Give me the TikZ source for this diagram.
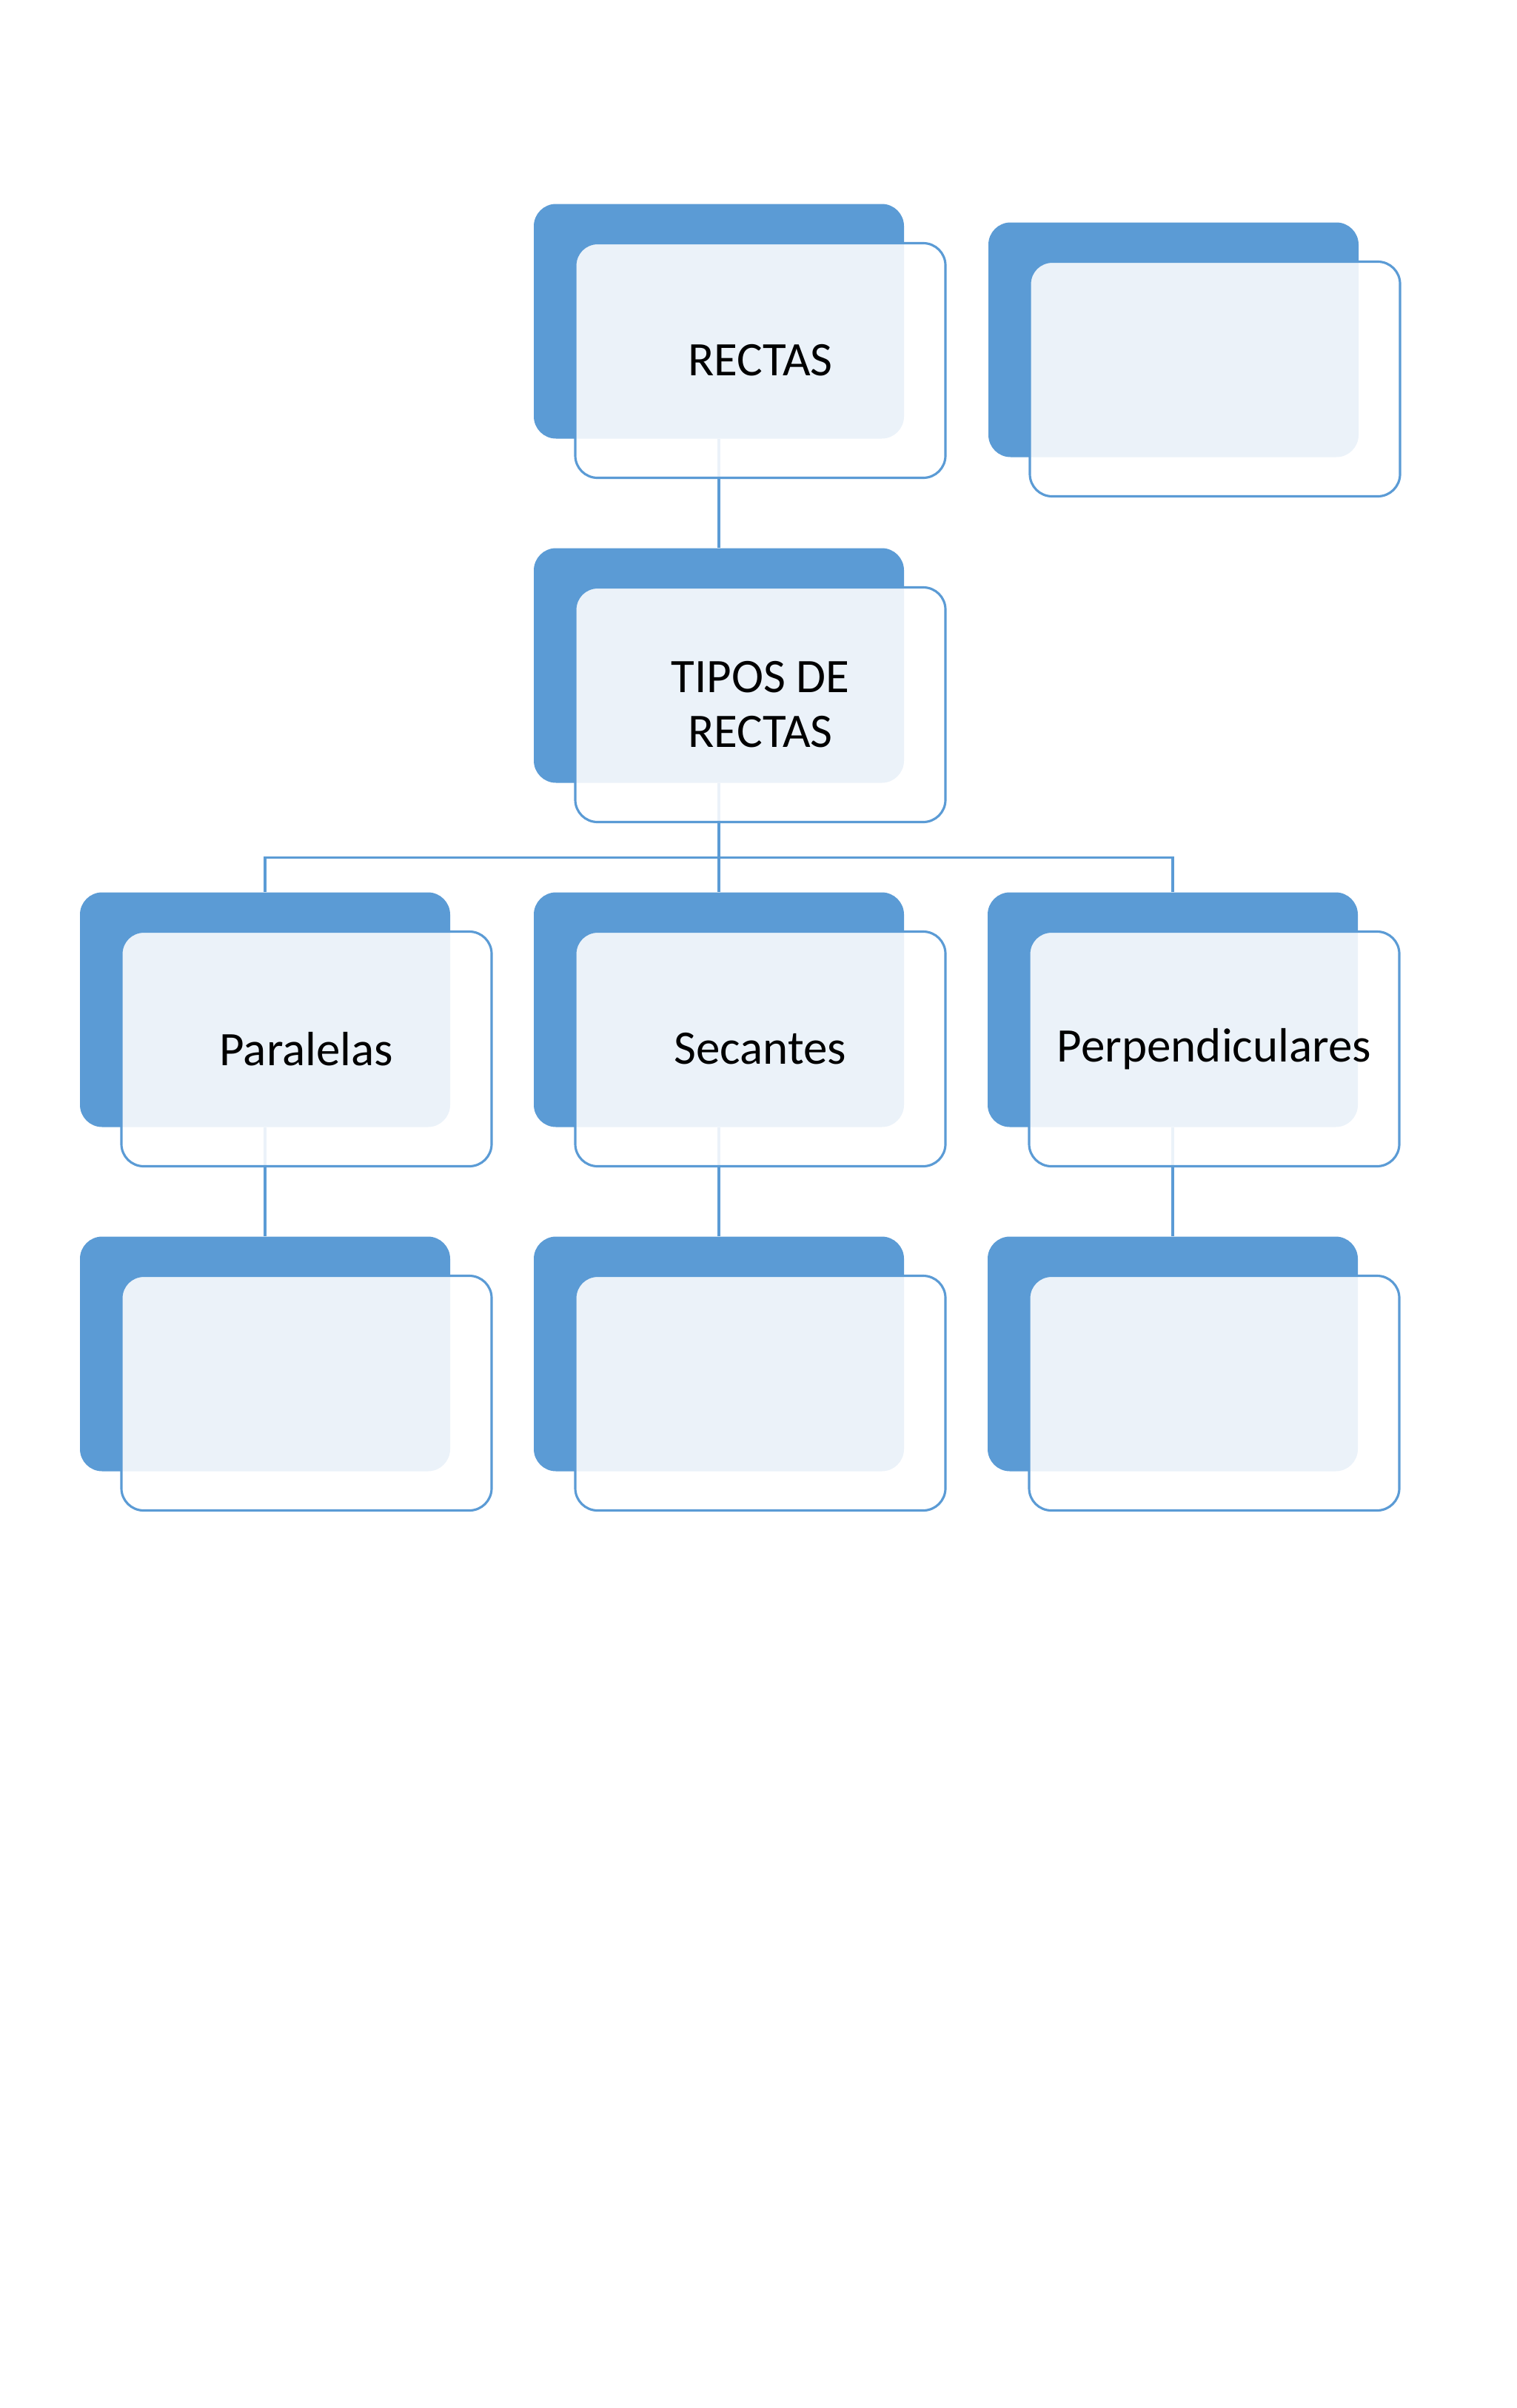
\documentclass[tikz,border=0pt]{standalone}
\usepackage{fontspec}
\setmainfont{Carlito}
\usetikzlibrary{positioning}
\definecolor{boxblue}{HTML}{5B9BD5}
\tikzstyle{back}=[fill=boxblue,rounded corners=0.3cm,minimum width=5cm,minimum height=3.17cm,inner sep=0pt]
\tikzstyle{front}=[draw=boxblue,line width=0.9pt,fill=white,fill opacity=0.88,text opacity=1,rounded corners=0.3cm,minimum width=5cm,minimum height=3.17cm,inner sep=0pt,align=center]
\tikzstyle{link}=[draw=boxblue,line width=0.9pt]
\tikzstyle{every node}=[font=\fontsize{18.5}{21}\selectfont]

\begin{document}
\begin{tikzpicture}[node distance=4.65cm]
    \useasboundingbox (0,0) rectangle (20.48,-32.53);
    % back boxes
    \node[back] (rectas) at (9.71,-4.34) {};
    \node[back] (extra) at (15.85,-4.59) {};
    \node[back, below of=rectas] (tipos) {};
    \node[back, below of=tipos] (secan) {};
    \node[back, left of=secan, node distance=6.13cm] (paral) {};
    \node[back, right of=secan, node distance=6.13cm] (perp) {};
    \node[back, below of=paral] (paralsub) {};
    \node[back, below of=secan] (secansub) {};
    \node[back, below of=perp] (perpsub) {};
    % links
    \draw[link] (rectas) -- (tipos);
    \draw[link] (tipos.south) -- ++(0,-1) coordinate (split) -| (paral.north);
    \draw[link] (split) -| (perp.north);
    \draw[link] (split) -- (secan);
    \draw[link] (paral) -- (paralsub);
    \draw[link] (secan) -- (secansub);
    \draw[link] (perp) -- (perpsub);
    % front boxes
    \node[front] (rectasF) at ([xshift=0.56cm,yshift=-0.53cm]rectas.center) {RECTAS};
    \node[front] (extraF) at ([xshift=0.56cm,yshift=-0.53cm]extra.center) {};
    \node[front] (tiposF) at ([xshift=0.56cm,yshift=-0.53cm]tipos.center) {TIPOS DE\\RECTAS};
    \node[front] (paralF) at ([xshift=0.56cm,yshift=-0.53cm]paral.center) {Paralelas};
    \node[front] (secanF) at ([xshift=0.56cm,yshift=-0.53cm]secan.center) {Secantes};
    \node[front] (perpF) at ([xshift=0.56cm,yshift=-0.53cm]perp.center) {Perpendiculares};
    \node[front] (paralsubF) at ([xshift=0.56cm,yshift=-0.53cm]paralsub.center) {};
    \node[front] (secansubF) at ([xshift=0.56cm,yshift=-0.53cm]secansub.center) {};
    \node[front] (perpsubF) at ([xshift=0.56cm,yshift=-0.53cm]perpsub.center) {};
\end{tikzpicture}
\end{document}
